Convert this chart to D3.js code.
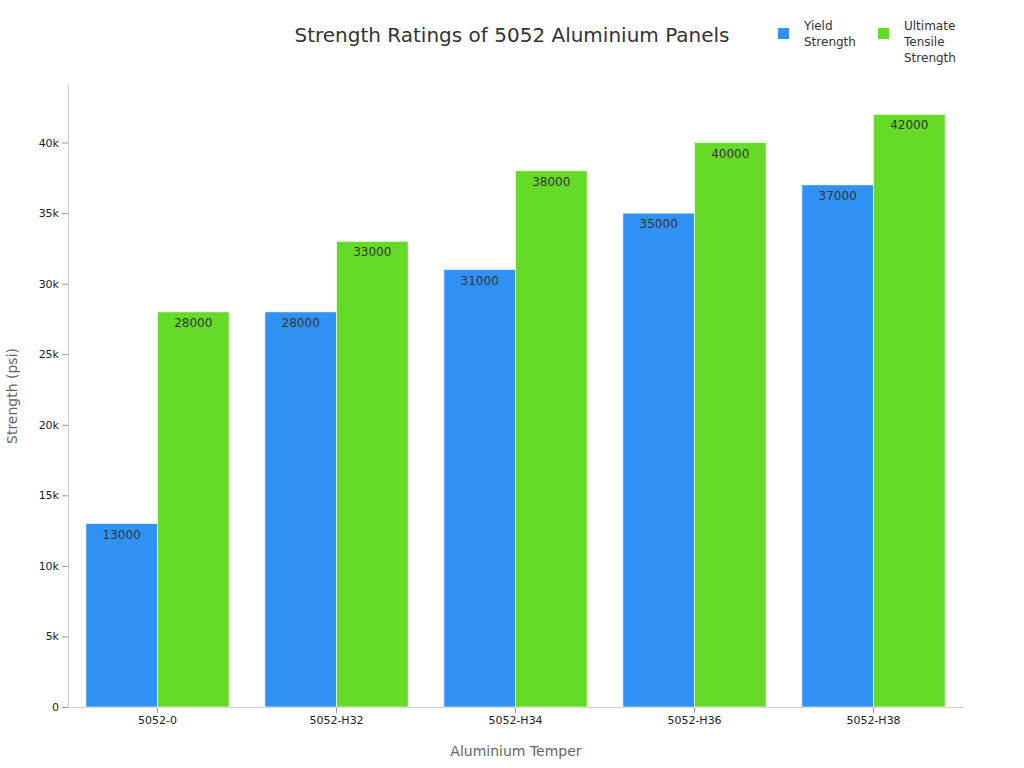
<!DOCTYPE html>
<html><head><meta charset="utf-8">
<script src="https://cdn.jsdelivr.net/npm/d3@7"></script>
<style>body{margin:0;background:#fff;font-family:"DejaVu Sans",sans-serif;}</style>
</head><body><svg id="c" width="1024" height="768"></svg>
<script>
const tempers = ["5052-0", "5052-H32", "5052-H34", "5052-H36", "5052-H38"];
const yieldStrength = [13000, 28000, 31000, 35000, 37000];
const tensileStrength = [28000, 33000, 38000, 40000, 42000];
const seriesNames = ["Yield Strength", "Ultimate Tensile Strength"];
const colors = ["#3092f5", "#66db27"];

const svg = d3.select("#c");
const m = {left: 68, right: 963, top: 84, bottom: 707};

const x = d3.scaleBand().domain(tempers).range([m.left, m.right]).paddingInner(0.2).paddingOuter(0.1);
const x1 = d3.scaleBand().domain([0, 1]).range([0, x.bandwidth()]);
const y = d3.scaleLinear().domain([0, 44150]).range([m.bottom, m.top]);

svg.append("g").attr("transform", `translate(0,${m.bottom})`)
  .call(d3.axisBottom(x).tickSizeOuter(0))
  .call(g => g.select(".domain").attr("stroke", "#ccc"))
  .call(g => g.selectAll(".tick line").attr("stroke", "#999"))
  .call(g => g.selectAll("text").attr("font-size", 11).attr("fill", "#222").attr("font-family", "DejaVu Sans"));

svg.append("g").attr("transform", `translate(${m.left},0)`)
  .call(d3.axisLeft(y).tickValues(d3.range(0, 40001, 5000)).tickFormat(d => d === 0 ? "0" : d / 1000 + "k").tickSizeOuter(0))
  .call(g => g.select(".domain").attr("stroke", "#ccc"))
  .call(g => g.selectAll(".tick line").attr("stroke", "#999"))
  .call(g => g.selectAll("text").attr("font-size", 11).attr("fill", "#222").attr("font-family", "DejaVu Sans"));

const series = [yieldStrength, tensileStrength];
series.forEach((vals, s) => {
  const g = svg.append("g");
  g.selectAll("rect").data(vals).join("rect")
    .attr("x", (d, i) => x(tempers[i]) + x1(s))
    .attr("y", d => y(d))
    .attr("width", x1.bandwidth())
    .attr("height", d => y(0) - y(d))
    .attr("fill", colors[s]).attr("stroke", "#fff").attr("stroke-width", 0.6);
  g.selectAll("text").data(vals).join("text")
    .attr("x", (d, i) => x(tempers[i]) + x1(s) + x1.bandwidth() / 2)
    .attr("y", d => y(d) + 15)
    .attr("text-anchor", "middle").attr("font-size", 12).attr("fill", "#333")
    .text(d => d);
});

svg.append("text").attr("x", 512).attr("y", 42).attr("text-anchor", "middle")
  .attr("font-size", 20).attr("fill", "#333").text("Strength Ratings of 5052 Aluminium Panels");
svg.append("text").attr("x", 516).attr("y", 756).attr("text-anchor", "middle")
  .attr("font-size", 14).attr("fill", "#666").text("Aluminium Temper");
svg.append("text").attr("transform", "translate(17,396) rotate(-90)").attr("text-anchor", "middle")
  .attr("font-size", 14).attr("fill", "#666").text("Strength (psi)");

const legend = [{x: 778, lines: ["Yield", "Strength"]}, {x: 878, lines: ["Ultimate", "Tensile", "Strength"]}];
legend.forEach((l, i) => {
  svg.append("rect").attr("x", l.x).attr("y", 28).attr("width", 11).attr("height", 11).attr("fill", colors[i]);
  svg.append("text").attr("x", l.x + 26).attr("y", 30).attr("font-size", 12).attr("fill", "#333")
    .selectAll("tspan").data(l.lines).join("tspan")
    .attr("x", l.x + 26).attr("dy", (d, j) => j === 0 ? 0 : 16).text(d => d);
});
</script></body></html>
